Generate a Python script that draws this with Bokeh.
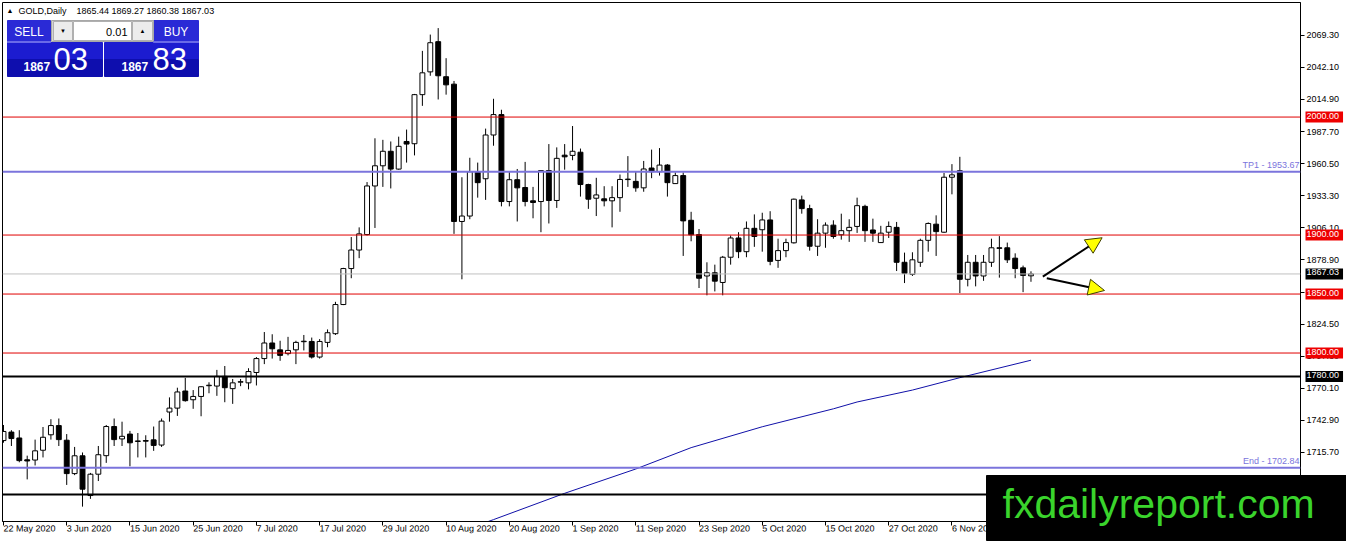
from bokeh.plotting import figure
from bokeh.models import (Range1d, FixedTicker, PrintfTickFormatter, Span, Label,
                          BoxAnnotation, Arrow, NormalHead, ColumnDataSource)
from bokeh.core.properties import value
from bokeh.embed import file_html
from bokeh.resources import INLINE

# ---------------- data (GOLD daily, 22 May 2020 .. 20 Nov 2020) ----------------
opens = [1725.8, 1733.0, 1728.0, 1709.5, 1709.3, 1717.6, 1730.7, 1738.5, 1726.1, 1697.8,
         1712.9, 1679.2, 1697.3, 1713.0, 1737.7, 1727.2, 1731.3, 1725.0, 1725.8, 1726.4,
         1722.0, 1750.0, 1753.3, 1767.8, 1760.4, 1763.2, 1772.3, 1772.0, 1780.2, 1769.8,
         1775.3, 1774.7, 1783.5, 1795.3, 1808.5, 1802.7, 1799.5, 1802.7, 1809.6, 1809.8,
         1796.6, 1809.0, 1816.4, 1841.1, 1871.6, 1887.3, 1900.4, 1941.6, 1958.7, 1971.0,
         1955.9, 1979.3, 1977.4, 2019.0, 2038.3, 2063.9, 2034.2, 2027.9, 1911.5, 1916.1,
         1953.7, 1947.7, 1984.8, 2002.1, 1928.4, 1946.9, 1940.3, 1929.0, 1928.4, 1954.6,
         1929.3, 1967.7, 1967.5, 1970.2, 1942.8, 1931.2, 1930.7, 1929.0, 1931.7, 1947.0,
         1945.5, 1940.0, 1956.8, 1953.7, 1959.3, 1943.6, 1950.4, 1912.5, 1900.4, 1865.3,
         1868.0, 1859.8, 1881.2, 1897.5, 1885.9, 1905.7, 1904.5, 1912.8, 1878.5, 1886.8,
         1893.4, 1929.8, 1922.4, 1890.5, 1901.6, 1908.4, 1900.2, 1903.7, 1907.3, 1924.3,
         1904.3, 1893.6, 1902.4, 1906.5, 1876.9, 1866.7, 1876.9, 1895.5, 1909.2, 1902.4,
         1949.0, 1954.5, 1862.5, 1876.9, 1865.3, 1876.9, 1889.2, 1889.2, 1880.4, 1872.2,
         1865.44]
highs = [1739.0, 1734.6, 1734.6, 1713.0, 1726.6, 1737.3, 1743.9, 1744.5, 1731.3, 1720.4,
         1715.7, 1698.4, 1721.2, 1739.0, 1744.5, 1741.8, 1734.0, 1732.2, 1730.3, 1737.7,
         1744.5, 1762.4, 1770.6, 1778.9, 1768.6, 1771.9, 1775.2, 1785.7, 1789.0, 1778.0,
         1778.0, 1787.1, 1796.6, 1817.8, 1815.9, 1810.4, 1813.7, 1810.4, 1815.3, 1813.1,
         1811.8, 1820.0, 1843.4, 1872.2, 1898.3, 1906.5, 1944.9, 1982.0, 1980.7, 1979.3,
         1983.4, 1989.4, 2019.6, 2056.1, 2069.9, 2075.4, 2049.9, 2030.6, 1949.0, 1965.5,
         1961.4, 1990.2, 2015.5, 2006.2, 1953.7, 1956.0, 1962.0, 1940.8, 1954.6, 1977.1,
         1974.3, 1977.1, 1992.4, 1973.3, 1943.5, 1948.5, 1941.4, 1941.4, 1951.3, 1966.9,
         1953.7, 1962.8, 1972.4, 1973.7, 1960.1, 1953.1, 1953.1, 1919.7, 1905.1, 1876.9,
         1874.9, 1882.3, 1899.6, 1902.4, 1911.5, 1917.5, 1918.9, 1920.2, 1896.9, 1896.9,
         1930.9, 1933.4, 1925.7, 1913.4, 1910.7, 1912.5, 1918.1, 1913.4, 1931.7, 1925.7,
         1913.9, 1907.8, 1911.5, 1911.1, 1885.1, 1885.4, 1896.9, 1910.7, 1916.7, 1952.6,
         1960.1, 1966.3, 1883.1, 1883.1, 1883.1, 1896.9, 1899.1, 1893.6, 1884.5, 1874.1,
         1869.27]
lows = [1724.0, 1721.2, 1707.4, 1692.9, 1704.7, 1711.5, 1726.6, 1721.2, 1688.2, 1696.5,
        1669.8, 1676.4, 1691.5, 1706.9, 1721.2, 1721.2, 1704.0, 1711.5, 1711.5, 1717.1,
        1720.4, 1741.8, 1746.7, 1758.8, 1752.7, 1746.4, 1765.9, 1763.7, 1758.3, 1756.9,
        1771.9, 1769.2, 1772.5, 1790.6, 1795.3, 1793.4, 1798.0, 1790.6, 1802.2, 1795.3,
        1795.3, 1804.9, 1815.3, 1840.6, 1863.4, 1880.4, 1899.6, 1906.0, 1940.8, 1939.5,
        1955.4, 1961.4, 1967.5, 2009.5, 2035.0, 2014.9, 2019.0, 1901.0, 1862.5, 1913.4,
        1931.7, 1929.8, 1975.7, 1924.3, 1924.3, 1911.5, 1924.3, 1914.2, 1902.4, 1909.8,
        1923.0, 1955.4, 1963.4, 1932.6, 1922.2, 1916.1, 1924.3, 1906.5, 1919.7, 1940.8,
        1936.7, 1936.7, 1948.2, 1950.4, 1932.6, 1943.6, 1882.3, 1894.7, 1855.1, 1848.9,
        1852.2, 1848.9, 1874.9, 1880.4, 1881.2, 1890.0, 1885.9, 1874.4, 1872.2, 1881.2,
        1892.8, 1918.1, 1886.8, 1882.3, 1889.2, 1896.9, 1896.1, 1894.2, 1901.8, 1894.2,
        1894.2, 1893.6, 1897.5, 1869.5, 1859.3, 1865.3, 1873.0, 1885.9, 1882.3, 1901.8,
        1934.5, 1850.8, 1856.5, 1856.5, 1861.2, 1873.0, 1863.9, 1876.3, 1863.4, 1851.6,
        1860.38]
closes = [1733.5, 1727.5, 1708.8, 1708.5, 1717.1, 1728.6, 1738.5, 1726.6, 1697.8, 1712.9,
          1684.6, 1697.3, 1713.8, 1737.7, 1726.6, 1729.4, 1723.9, 1725.5, 1725.3, 1721.7,
          1742.3, 1753.3, 1767.0, 1759.6, 1763.2, 1771.4, 1772.7, 1780.2, 1770.6, 1774.7,
          1775.7, 1784.3, 1795.3, 1808.5, 1803.6, 1798.0, 1802.2, 1809.0, 1810.0, 1796.6,
          1809.8, 1817.2, 1841.1, 1871.6, 1887.3, 1901.0, 1941.6, 1958.7, 1971.0, 1955.9,
          1975.2, 1977.1, 2019.0, 2037.5, 2063.0, 2035.0, 2027.3, 1911.5, 1916.1, 1953.7,
          1944.4, 1984.8, 2002.1, 1928.4, 1946.9, 1940.0, 1928.4, 1927.6, 1954.6, 1929.3,
          1965.0, 1966.3, 1971.0, 1942.8, 1930.4, 1934.0, 1929.0, 1931.7, 1947.1, 1947.4,
          1940.0, 1956.0, 1953.7, 1959.3, 1944.4, 1950.4, 1912.0, 1900.2, 1863.4, 1868.0,
          1860.9, 1881.2, 1897.5, 1885.9, 1905.7, 1898.8, 1912.8, 1877.7, 1886.8, 1893.6,
          1930.4, 1922.4, 1890.5, 1901.6, 1908.4, 1898.8, 1903.7, 1906.5, 1924.9, 1903.7,
          1901.6, 1901.6, 1907.3, 1876.9, 1867.5, 1879.0, 1895.5, 1909.8, 1902.9, 1949.0,
          1951.0, 1862.5, 1876.9, 1865.3, 1876.9, 1889.2, 1888.7, 1879.0, 1871.6, 1865.8,
          1867.03]

# moving average (read at a few bars)
ma_idx = [61, 62, 71, 80, 87, 96, 105, 108, 115, 121, 130]
ma_val = [1656.4, 1658.8, 1681.1, 1701.7, 1719.8, 1737.5, 1752.7, 1758.5, 1768.6, 1779.1, 1793.9]

# x-axis date labels (every 8 bars)
date_tick_idx = [0, 8, 16, 24, 32, 40, 48, 56, 64, 72, 80, 88, 96, 104, 112, 120, 128]
date_labels = ["22 May 2020", "3 Jun 2020", "15 Jun 2020", "25 Jun 2020", "7 Jul 2020",
               "17 Jul 2020", "29 Jul 2020", "10 Aug 2020", "20 Aug 2020", "1 Sep 2020",
               "11 Sep 2020", "23 Sep 2020", "5 Oct 2020", "15 Oct 2020", "27 Oct 2020",
               "6 Nov 2020", "18 Nov 2020"]

# price axis ticks
price_ticks = [1688.50, 1715.70, 1742.90, 1770.10, 1797.30, 1824.50, 1851.70, 1878.90,
               1906.10, 1933.30, 1960.50, 1987.70, 2014.90, 2042.10, 2069.30]

# horizontal levels
red_levels = [2000.00, 1900.00, 1850.00, 1800.00]
black_levels = [1780.00, 1680.00]
blue_levels = [1953.67, 1702.84]
blue_names = ["TP1", "End"]

# trend arrows
arrow_x0 = [131.5, 132.0]
arrow_y0 = [1864.8, 1863.4]
arrow_x1 = [139.0, 139.3]
arrow_y1 = [1897.7, 1853.0]

bid = "1867.03"
ask = "1867.83"

# ---------------- figure ----------------
FONT = "Liberation Sans"
FL, FT, FW, FH = 2, 2, 1298, 519          # frame geometry (px)
RB, BB = 46, 17                           # right / bottom borders
CW, CH = FL + FW + RB, FT + FH + BB       # canvas 1346 x 538
X0, X1 = -0.125, 164.1
Y0, Y1 = 1657.2, 2097.1

p = figure(frame_width=FW, frame_height=FH, output_backend="svg", toolbar_location=None,
           x_range=Range1d(X0, X1), y_range=Range1d(Y0, Y1),
           y_axis_location="right", min_border_left=FL, min_border_top=FT,
           min_border_right=RB, min_border_bottom=BB)
p.xgrid.visible = False
p.ygrid.visible = False
p.outline_line_color = "black"
p.outline_line_width = 1
p.background_fill_color = "white"
p.border_fill_color = "white"

xa = p.xaxis[0]
xa.ticker = FixedTicker(ticks=date_tick_idx)
xa.major_label_overrides = {i: s for i, s in zip(date_tick_idx, date_labels)}
xa.major_label_orientation = -0.001
xa.major_label_text_font = FONT
xa.major_label_text_font_size = "9px"
xa.major_label_text_color = "black"
xa.major_tick_in = 0
xa.major_tick_out = 4
xa.major_label_standoff = 3
xa.minor_tick_line_color = None
xa.axis_line_color = "black"
xa.major_tick_line_color = "black"

ya = p.yaxis[0]
ya.ticker = FixedTicker(ticks=price_ticks)
ya.formatter = PrintfTickFormatter(format="%.2f")
ya.major_label_text_font = FONT
ya.major_label_text_font_size = "9px"
ya.major_label_text_color = "black"
ya.major_tick_in = 0
ya.major_tick_out = 4
ya.major_label_standoff = 2
ya.minor_tick_line_color = None
ya.axis_line_color = "black"
ya.major_tick_line_color = "black"

# helpers converting canvas pixels to data (for decorations outside the frame)
def dx(px):
    return X0 + (px - FL) / FW * (X1 - X0)

def dy(py):
    return Y1 - (py - FT) / FH * (Y1 - Y0)

# ---------------- candles ----------------
n = len(opens)
idx = list(range(n))
tops = [max(o, c) for o, c in zip(opens, closes)]
bots = [min(o, c) for o, c in zip(opens, closes)]
fills = ["white" if c >= o else "black" for o, c in zip(opens, closes)]
src = ColumnDataSource(dict(x=idx, h=highs, l=lows, top=tops, bottom=bots, fill=fills))
p.segment(x0="x", y0="h", x1="x", y1="l", source=src, line_color="black", line_width=1)
p.vbar(x="x", width=0.62, top="top", bottom="bottom", source=src,
       fill_color="fill", line_color="black", line_width=1)

# moving average
p.line(ma_idx, ma_val, line_color="#1010a8", line_width=1)

# ---------------- level lines ----------------
for lv in red_levels:
    p.add_layout(Span(location=lv, dimension="width", line_color="#e00000", line_width=1))
for lv in black_levels:
    p.add_layout(Span(location=lv, dimension="width", line_color="black", line_width=2))
for lv, nm in zip(blue_levels, blue_names):
    p.add_layout(Span(location=lv, dimension="width", line_color="#7b74dc", line_width=2))
    p.add_layout(Label(x=X1, y=lv, text=f"{nm} - {lv:.2f}", text_align="right",
                       text_baseline="bottom", x_offset=-1, y_offset=2,
                       text_font=FONT, text_font_size="9px", text_color="#7b74dc"))
p.add_layout(Span(location=closes[-1], dimension="width", line_color="#c0c0c0", line_width=1))

# price tags on the axis (overlay-level glyphs are not clipped to the frame)
tag_vals = red_levels + black_levels + [closes[-1]]
tag_cols = ["#ee0000"] * len(red_levels) + ["black"] * len(black_levels) + ["black"]
tag_src = ColumnDataSource(dict(x=[X1] * len(tag_vals), y=tag_vals,
                                t=[f"{v:.2f}" for v in tag_vals], bg=tag_cols))
p.text(x="x", y="y", text="t", source=tag_src, x_offset=5, text_align="left",
       text_baseline="middle", text_font=value(FONT), text_font_size="9px",
       text_color="white", background_fill_color="bg", background_fill_alpha=1.0,
       padding=(1, 4, 1, 4), level="overlay")

# arrows
for xs, ys, xe, ye in zip(arrow_x0, arrow_y0, arrow_x1, arrow_y1):
    p.add_layout(Arrow(x_start=xs, y_start=ys, x_end=xe, y_end=ye, line_color="black",
                       line_width=2,
                       end=NormalHead(size=16, fill_color="#ffff00", line_color="#404000",
                                      line_width=1)))

# ---------------- header & trading panel (canvas units) ----------------
def box(l, r, t, b, color, line=None):
    p.add_layout(BoxAnnotation(left=l, right=r, top=t, bottom=b,
                               left_units="canvas", right_units="canvas",
                               top_units="canvas", bottom_units="canvas",
                               fill_color=color, fill_alpha=1.0,
                               line_color=line if line else color, line_alpha=1.0,
                               line_width=1, level="overlay"))

def txt(x, y, s, size, color="black", align="left", style="normal"):
    # y is the vertical centre of the text
    p.add_layout(Label(x=x, y=y, x_units="canvas", y_units="canvas", text=s,
                       text_align=align, text_baseline="middle", text_font=FONT,
                       text_font_size=size, text_color=color, text_font_style=style,
                       level="overlay"))

txt(6, 10, "\u25b2", "7px")
txt(18, 10, "GOLD,Daily", "9px")
txt(76, 10, f"{opens[-1]:.2f} {highs[-1]:.2f} {lows[-1]:.2f} {closes[-1]:.2f}", "9px")

# top buttons
box(7, 50, 20, 41, "#2a2ad6")
box(153, 198, 20, 41, "#2a2ad6")
box(51, 153, 20, 41, "#d4d4d4", "#a8a8a8")
box(53, 72, 21, 40, "#ececec", "#b0b0b0")
box(73, 131, 21, 40, "white", "#b0b0b0")
box(132, 152, 21, 40, "#ececec", "#b0b0b0")
txt(28.5, 31, "SELL", "12px", "white", "center")
txt(175.5, 31, "BUY", "12px", "white", "center")
txt(62.5, 30.5, "\u25bc", "6px", "black", "center")
txt(142, 30.5, "\u25b2", "6px", "black", "center")
txt(127, 31, "0.01", "11px", "black", "right")
# price boxes
box(7, 102, 42, 59, "#1c1cd0")
box(7, 102, 59, 76, "#0e0eae")
box(104, 198, 42, 59, "#1c1cd0")
box(104, 198, 59, 76, "#0e0eae")
box(7, 50, 41, 42, "#6a6ae8")
box(153, 198, 41, 42, "#6a6ae8")
txt(23, 65.5, bid[:4], "12px", "white", style="bold")
txt(53, 58.5, bid[-2:], "31px", "white")
txt(121, 65.5, ask[:4], "12px", "white", style="bold")
txt(152, 58.5, ask[-2:], "31px", "white")

# watermark (overlay glyphs, drawn over the axes)
p.quad(left=[dx(CW - 360)], right=[dx(CW + 2)], top=[dy(CH - 63)], bottom=[dy(CH + 2)],
       fill_color="black", line_color="black", level="overlay")
p.text(x=[dx(CW - 344)], y=[dy(CH - 35)], text=["fxdailyreport.com"], text_align="left",
       text_baseline="middle", text_font=value(FONT), text_font_size="41px",
       text_color="#3ad42c", level="overlay")

open("out.html", "w").write(file_html(p, INLINE))
